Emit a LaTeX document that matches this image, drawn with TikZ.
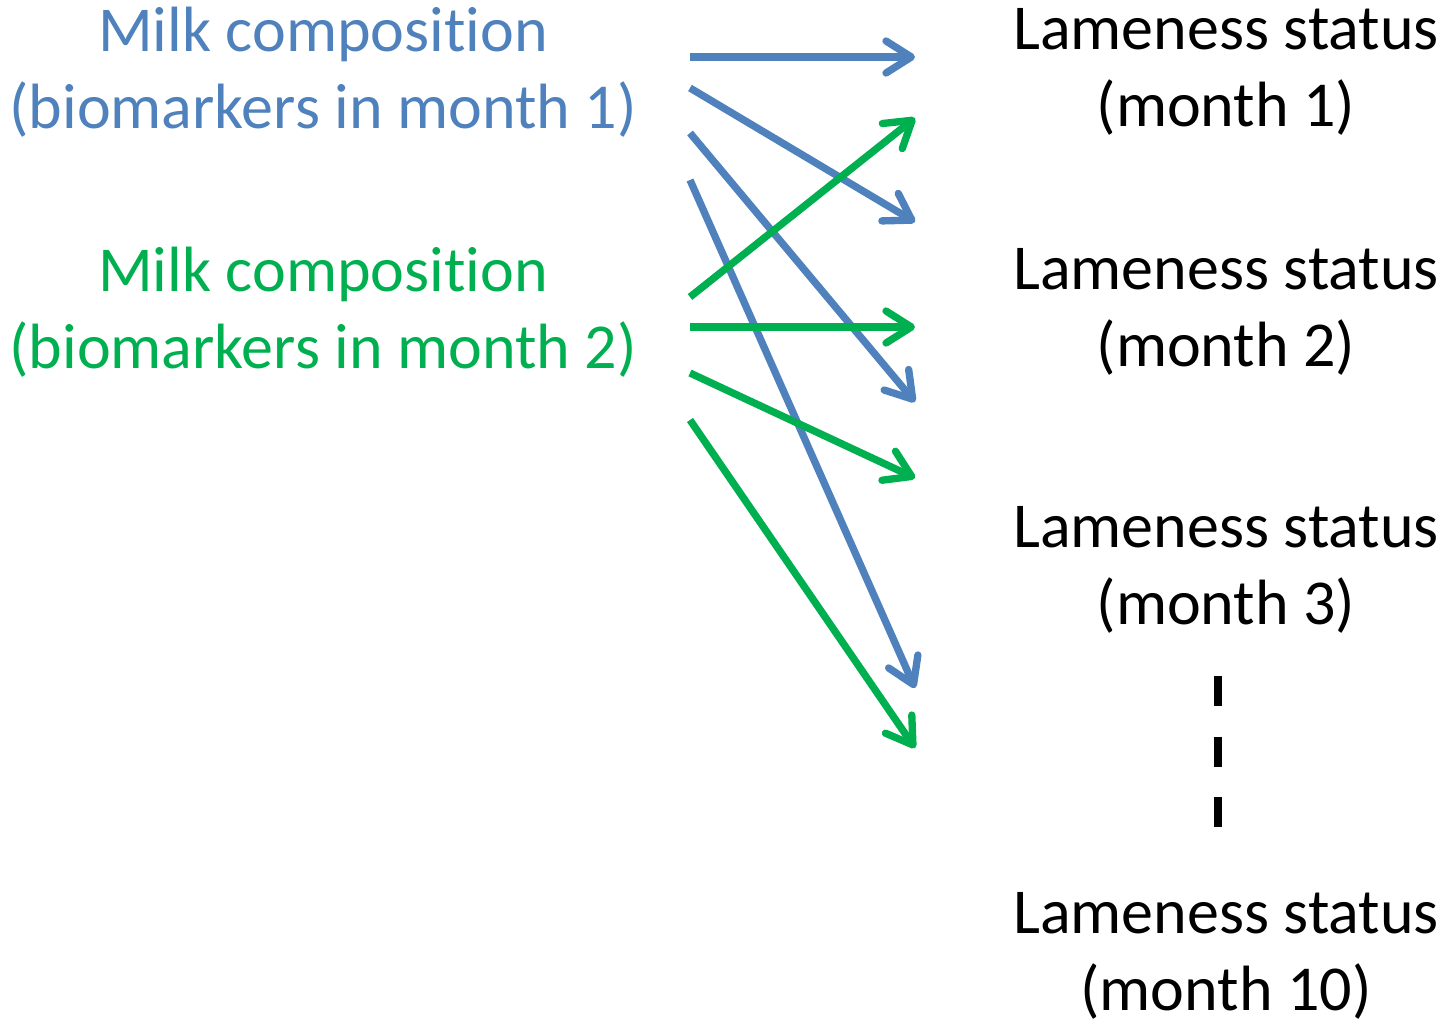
\documentclass[tikz,border=0pt]{standalone}
\usepackage{fontspec}
\setmainfont{Carlito}[Ligatures=NoCommon]
\usepackage{tikz}
\usetikzlibrary{arrows.meta}

\definecolor{milkblue}{HTML}{4F81BD}
\definecolor{milkgreen}{HTML}{00B050}

\tikzset{
    lbl/.style={align=center, inner sep=0pt, font=\fontsize{48}{57.5}\selectfont},
    link/.style={line width=5.5pt, -{Straight Barb[length=19pt, width=24pt, round]}},
    bluelink/.style={link, milkblue},
    greenlink/.style={link, milkgreen}
}

\begin{document}
\begin{tikzpicture}[x=0.75pt, y=-0.75pt]
        \useasboundingbox (0,0) rectangle (1446,1021);
        % labels
        \node[lbl, milkblue] (milk1) at (323,72) {Milk composition\\(biomarkers in month 1)};
        \node[lbl, milkgreen] (milk2) at (323,312) {Milk composition\\(biomarkers in month 2)};
        \node[lbl] (lame1) at (1226,72) {Lameness status\\(month 1)};
        \node[lbl] (lame2) at (1226,312) {Lameness status\\(month 2)};
        \node[lbl] (lame3) at (1226,570) {Lameness status\\(month 3)};
        \node[lbl] (lame10) at (1226,956) {Lameness status\\(month 10)};
        % arrow ends
        \coordinate (b1) at (690,57);
        \coordinate (b2) at (690,88);
        \coordinate (b3) at (690,133);
        \coordinate (b4) at (690,180);
        \coordinate (g1) at (690,297);
        \coordinate (g2) at (690,327);
        \coordinate (g3) at (690,373);
        \coordinate (g4) at (690,420);
        \coordinate (tb1) at (915,57);
        \coordinate (tb2) at (915,222);
        \coordinate (tb3) at (915,402);
        \coordinate (tb4) at (915,688);
        \coordinate (tg1) at (915,118);
        \coordinate (tg2) at (915,327);
        \coordinate (tg3) at (915,478);
        \coordinate (tg4) at (915,748);
        % month 1 -> months
        \draw[bluelink] (b1) -- (tb1);
        \draw[bluelink] (b2) -- (tb2);
        \draw[bluelink] (b3) -- (tb3);
        \draw[bluelink] (b4) -- (tb4);
        % month 2 -> months
        \draw[greenlink] (g1) -- (tg1);
        \draw[greenlink] (g2) -- (tg2);
        \draw[greenlink] (g3) -- (tg3);
        \draw[greenlink] (g4) -- (tg4);
        % dots to month 10
        \coordinate (d1) at (1218,676);
        \coordinate (d2) at (1218,828);
        \draw[line width=6pt, dash pattern=on 22.5pt off 23pt] (d1) -- (d2);
\end{tikzpicture}
\end{document}
